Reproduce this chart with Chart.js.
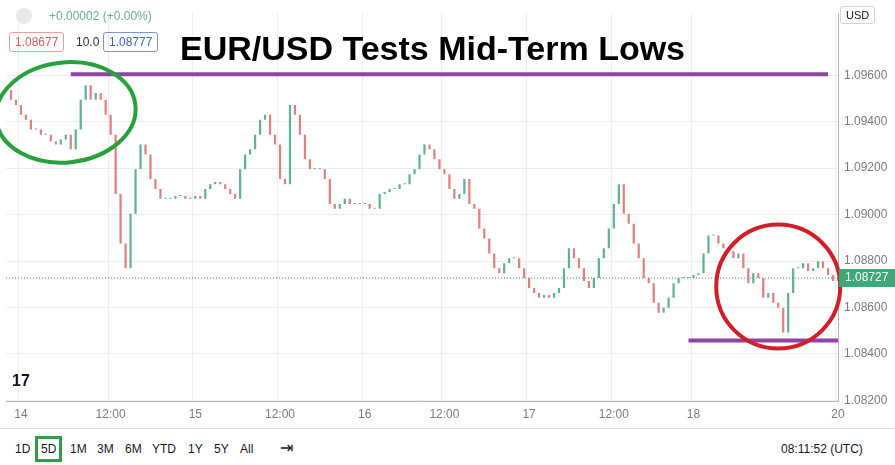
<!DOCTYPE html>
<html>
<head>
<meta charset="utf-8">
<script src="https://cdn.jsdelivr.net/npm/chart.js@4.4.1/dist/chart.umd.min.js"></script>
<style>
  body { margin: 0; width: 895px; height: 465px; background: #fff; font-family: "Liberation Sans", Arial, sans-serif; position: relative; overflow: hidden; }
  #wrap { position: absolute; left: 0; top: 0; width: 895px; height: 428px; }
  .abs { position: absolute; }
  .box { border: 1px solid; border-radius: 3px; font-size: 12px; padding: 2px 5px; }
  #bar { position: absolute; left: 0; top: 428px; width: 895px; height: 37px; border-top: 1px solid #e0e3eb; font-size: 12px; color: #131722; }
  #bar span { position: absolute; top: 13px; }
</style>
</head>
<body>
<div id="wrap"><canvas id="graph" width="895" height="428"></canvas></div>
<div class="abs" style="left:16px;top:8px;width:16px;height:16px;border-radius:8px;background:#e8e8e8"></div>
<div class="abs" style="left:49px;top:9px;font-size:12px;color:#6cae92">+0.00002 (+0.00%)</div>
<div class="abs box" style="left:9px;top:32px;color:#d0605c;border-color:#e8a09c">1.08677</div>
<div class="abs" style="left:76px;top:35px;font-size:12px;color:#333">10.0</div>
<div class="abs box" style="left:103px;top:32px;color:#3b67b0;border-color:#7b96c8">1.08777</div>
<div class="abs" style="left:180px;top:29px;font-size:34px;font-weight:bold;color:#000">EUR/USD Tests Mid-Term Lows</div>
<div class="abs box" style="left:840px;top:6px;color:#131722;border-color:#d1d4dc;font-size:11px">USD</div>
<div class="abs" style="left:12px;top:372px;font-size:16px;font-weight:bold;color:#131722">17</div>
<div id="bar">
  <span style="left:15px">1D</span>
  <span style="left:35px;top:7px;border:3px solid #2f9e45;padding:3px 3px">5D</span>
  <span style="left:70px">1M</span>
  <span style="left:97px">3M</span>
  <span style="left:125px">6M</span>
  <span style="left:152px">YTD</span>
  <span style="left:188px">1Y</span>
  <span style="left:214px">5Y</span>
  <span style="left:240px">All</span>
  <span style="left:280px;font-size:16px;top:9px">⇥</span>
  <span style="left:781px">08:11:52 (UTC)</span>
</div>
<script>
const upColor =    'rgb(96, 178, 150)'
const downColor =  'rgb(226, 128, 124)'
const purple =     'rgb(142, 68, 160)'
const gridColor =  'rgb(236, 237, 240)'
const axisText =   'rgb(120, 123, 134)'

// closing prices, one candle per slot
const closes = [
  1.09536,1.09494,1.09472,1.0943,1.09408,1.09366,1.09366,1.09344,1.09344,1.09315,
  1.09302,1.09323,1.09344,1.09281,1.09366,1.09494,1.09557,1.09494,1.09523,1.09494,
  1.0943,1.09344,1.09089,1.08876,1.08769,1.09004,1.09195,1.09302,1.09259,1.09153,
  1.0911,1.09068,1.09068,1.09068,1.0908,1.0908,1.09068,1.09068,1.0908,1.09068,
  1.0911,1.09131,1.0914,1.09131,1.0911,1.09089,1.09068,1.09195,1.09259,1.09281,
  1.09344,1.09408,1.0943,1.09344,1.09302,1.09153,1.09131,1.09472,1.0943,1.09344,
  1.09238,1.09195,1.09195,1.09195,1.09153,1.09046,1.09025,1.09046,1.09068,1.09046,
  1.09046,1.09046,1.09046,1.09025,1.09025,1.09089,1.09097,1.0911,1.0911,1.09131,
  1.09131,1.09174,1.09195,1.09259,1.09302,1.09281,1.09238,1.09195,1.09174,1.0911,
  1.09068,1.09089,1.09153,1.09046,1.09025,1.0894,1.08897,1.08833,1.08769,1.08748,
  1.08791,1.08812,1.08812,1.08769,1.08727,1.08684,1.08663,1.08642,1.08654,1.08642,
  1.08663,1.08684,1.08769,1.08855,1.08812,1.08769,1.08714,1.08684,1.08727,1.08812,
  1.08855,1.0894,1.09046,1.09131,1.09004,1.08961,1.08876,1.08812,1.08727,1.08705,
  1.0862,1.08578,1.08599,1.08642,1.08705,1.08727,1.08727,1.08727,1.0874,1.08748,
  1.08833,1.0891,1.0891,1.08876,1.08855,1.08842,1.08812,1.08833,1.08769,1.08705,
  1.08748,1.08727,1.08642,1.08663,1.0862,1.08599,1.08492,1.08663,1.08769,1.08769,
  1.08791,1.08757,1.08769,1.08799,1.08769,1.0874,1.08714,1.08727
]
// x tick labels by slot index
const tickLabels = {3:'14', 21:'12:00', 38:'15', 55:'12:00', 72:'16', 88:'12:00', 105:'17', 122:'12:00', 138:'18', 167:'20'}
const yTicks = [1.082, 1.084, 1.086, 1.088, 1.090, 1.092, 1.094, 1.096]
const resistance = 1.09604
const support = 1.08458
const resistanceSpan = [13, 165]
const supportSpan = [137, 167]
const lastPrice = 1.08727

const labels = closes.map((c, i) => i)
const bodies = closes.map((c, i) => [i === 0 ? 1.09550 : closes[i - 1], c])
const bodyColors = bodies.map(b => b[1] >= b[0] ? upColor : downColor)
const lineData = (span, v) => labels.map(i => (i >= span[0] && i <= span[1]) ? v : null)

const overlay = {
  id: 'overlay',
  afterDatasetsDraw(chart) {
    const {ctx, scales: {x, y}, chartArea} = chart
    // current price dotted line
    ctx.save()
    ctx.setLineDash([1, 2])
    ctx.strokeStyle = 'rgb(60, 150, 120)'
    ctx.lineWidth = 1
    ctx.beginPath()
    ctx.moveTo(chartArea.left, y.getPixelForValue(lastPrice))
    ctx.lineTo(chartArea.right, y.getPixelForValue(lastPrice))
    ctx.stroke()
    ctx.setLineDash([])
    // hand drawn ellipses
    ctx.lineWidth = 4
    ctx.strokeStyle = 'rgb(40, 160, 60)'
    ctx.beginPath()
    ctx.ellipse(x.getPixelForValue(12), y.getPixelForValue(1.0944), 70, 50, -0.1, 0, Math.PI * 2)
    ctx.stroke()
    ctx.strokeStyle = 'rgb(210, 30, 40)'
    ctx.beginPath()
    ctx.ellipse(x.getPixelForValue(155), y.getPixelForValue(1.0869), 62, 62, 0, 0, Math.PI * 2)
    ctx.stroke()
    // price label on axis
    const py = y.getPixelForValue(lastPrice)
    ctx.fillStyle = 'rgb(60, 170, 120)'
    ctx.fillRect(chartArea.right + 1, py - 9, 56, 18)
    ctx.fillStyle = '#fff'
    ctx.font = '12px "Liberation Sans"'
    ctx.textBaseline = 'middle'
    ctx.fillText(lastPrice.toFixed(5), chartArea.right + 7, py)
    ctx.restore()
  }
}

new Chart(document.getElementById('graph'), {
  type: 'bar',
  data: {
    labels: labels,
    datasets: [
      {
        label: 'Resistance',
        type: 'line',
        data: lineData(resistanceSpan, resistance),
        borderColor: purple,
        borderWidth: 4,
        pointRadius: 0
      },
      {
        label: 'Support',
        type: 'line',
        data: lineData(supportSpan, support),
        borderColor: purple,
        borderWidth: 4,
        pointRadius: 0
      },
      {
        label: 'EURUSD',
        data: bodies,
        backgroundColor: bodyColors,
        barPercentage: 0.45,
        categoryPercentage: 1,
        minBarLength: 1
      }
    ]
  },
  plugins: [overlay],
  options: {
    responsive: false,
    animation: false,
    layout: {padding: 0},
    plugins: {legend: {display: false}, tooltip: {enabled: false}},
    scales: {
      x: {
        offset: false,
        grid: {
          color: ctx => tickLabels[ctx.index] !== undefined ? gridColor : 'transparent',
          drawTicks: false
        },
        border: {color: 'rgb(180, 182, 190)'},
        ticks: {
          autoSkip: false,
          maxRotation: 0,
          padding: 6,
          color: axisText,
          font: {size: 12, family: 'Liberation Sans'},
          callback: (v, i) => tickLabels[i] || ''
        }
      },
      y: {
        position: 'right',
        min: 1.08195,
        max: 1.09867,
        afterBuildTicks: s => { s.ticks = yTicks.map(v => ({value: v})) },
        afterFit: s => { s.width = 57 },
        grid: {color: gridColor, drawTicks: false},
        border: {color: 'rgb(180, 182, 190)'},
        ticks: {
          padding: 6,
          color: axisText,
          font: {size: 12, family: 'Liberation Sans'},
          callback: v => v.toFixed(5)
        }
      }
    }
  }
})
</script>
</body>
</html>
